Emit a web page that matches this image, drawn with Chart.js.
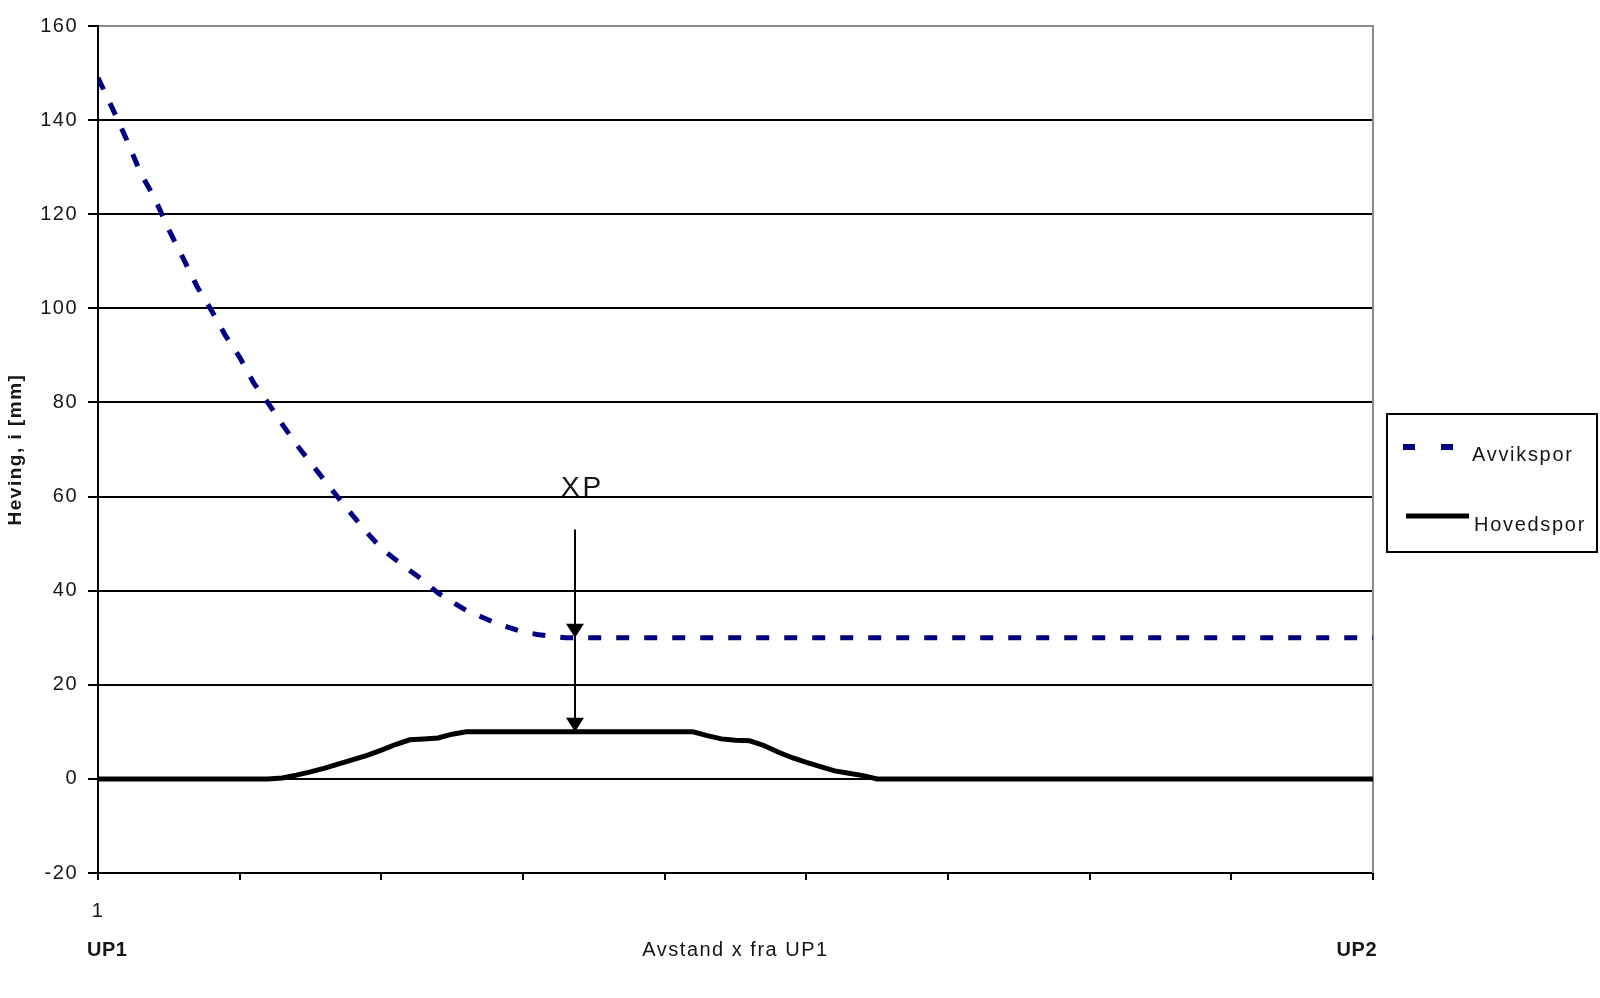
<!DOCTYPE html>
<html>
<head>
<meta charset="utf-8">
<script src="https://cdn.jsdelivr.net/npm/chart.js@4.4.1/dist/chart.umd.min.js"></script>
<style>
html,body{margin:0;padding:0;background:#fff;overflow:hidden}
canvas{display:block}
</style>
</head>
<body>
<canvas id="c" width="1600" height="998"></canvas>
<script>
// ---- data ----
const categories = [
  1, 2, 3, 4, 5, 6, 7, 8, 9, 10,
  11, 12, 13, 14, 15, 16, 17, 18, 19, 20,
  21, 22, 23, 24, 25, 26, 27, 28, 29, 30,
  31, 32, 33, 34, 35, 36, 37, 38, 39, 40,
  41, 42, 43, 44, 45, 46, 47, 48, 49, 50,
  51, 52, 53, 54, 55, 56, 57, 58, 59, 60,
  61, 62, 63, 64, 65, 66, 67, 68, 69, 70,
  71, 72, 73, 74, 75, 76, 77, 78, 79, 80,
  81, 82, 83, 84, 85, 86, 87, 88, 89, 90,
  91
];
const avvikspor = [
  149, 142.6, 136, 128.8, 123.4, 116.7, 110.7, 104.6, 99.6, 94.2,
  89.6, 84.1, 79.9, 75.4, 71.1, 67.2, 63.4, 59.6, 55.9, 52.3,
  49, 46.6, 44.3, 42.1, 39.5, 37.6, 35.8, 34.5, 33.2, 32.2,
  31.2, 30.7, 30.3, 30, 30, 30, 30, 30, 30, 30,
  30, 30, 30, 30, 30, 30, 30, 30, 30, 30,
  30, 30, 30, 30, 30, 30, 30, 30, 30, 30,
  30, 30, 30, 30, 30, 30, 30, 30, 30, 30,
  30, 30, 30, 30, 30, 30, 30, 30, 30, 30,
  30, 30, 30, 30, 30, 30, 30, 30, 30, 30,
  30
];
const hovedspor = [
  0, 0, 0, 0, 0, 0, 0, 0, 0, 0,
  0, 0, 0, 0.2, 0.8, 1.5, 2.3, 3.2, 4.1, 5,
  6.1, 7.3, 8.3, 8.5, 8.7, 9.5, 10, 10, 10, 10,
  10, 10, 10, 10, 10, 10, 10, 10, 10, 10,
  10, 10, 10, 9.2, 8.5, 8.2, 8.1, 7.1, 5.7, 4.5,
  3.5, 2.6, 1.7, 1.2, 0.7, 0, 0, 0, 0, 0,
  0, 0, 0, 0, 0, 0, 0, 0, 0, 0,
  0, 0, 0, 0, 0, 0, 0, 0, 0, 0,
  0, 0, 0, 0, 0, 0, 0, 0, 0, 0,
  0
];
const seriesNames = ['Avvikspor', 'Hovedspor'];
const yMin = -20, yMax = 160, yStep = 20;
const xTickValues = [1, 11, 21, 31, 41, 51, 61, 71, 81, 91];
const xTickLabels = ['1', '', '', '', '', '', '', '', '', ''];
const xAxisTitle = 'Avstand x fra UP1';
const yAxisTitle = 'Heving, i [mm]';
const endLabels = ['UP1', 'UP2'];
// XP annotation (in data units)
const xpLabel = 'XP';
const xpCategory = 34.7;
const xpLabelCategory = 35.1;
const xpLabelValue = 61.7;
const xpTopValue = 53;
const xpTipValues = [30, 10];

// ---- drawing ----
const FONT = "'Liberation Sans', Arial, sans-serif";
const TEXT = '#161616';

const spacingPlugin = {
  id: 'spacing',
  beforeLayout(chart) { chart.ctx.letterSpacing = '1.5px'; },
  beforeDraw(chart) { chart.ctx.letterSpacing = '1.5px'; }
};

const framePlugin = {
  id: 'frame',
  beforeDatasetsDraw(chart) {
    const {ctx, chartArea: a} = chart;
    ctx.save();
    ctx.strokeStyle = '#8c8c8c';
    ctx.lineWidth = 2;
    ctx.beginPath();
    ctx.moveTo(Math.round(a.right), a.top - 1);
    ctx.lineTo(Math.round(a.right), a.bottom);
    ctx.stroke();
    ctx.restore();
  }
};

const annotationPlugin = {
  id: 'xp',
  afterDatasetsDraw(chart) {
    const {ctx} = chart;
    const xs = chart.scales.x, ys = chart.scales.y;
    const px = Math.round(xs.getPixelForValue(xpCategory));
    ctx.save();
    ctx.setLineDash([]);
    ctx.strokeStyle = '#000';
    ctx.fillStyle = '#000';
    ctx.lineWidth = 2;
    ctx.beginPath();
    ctx.moveTo(px, ys.getPixelForValue(xpTopValue));
    ctx.lineTo(px, ys.getPixelForValue(xpTipValues[xpTipValues.length - 1]) - 4);
    ctx.stroke();
    xpTipValues.forEach(v => {
      const ty = ys.getPixelForValue(v);
      ctx.beginPath();
      ctx.moveTo(px - 9, ty - 14);
      ctx.lineTo(px + 9, ty - 14);
      ctx.lineTo(px, ty);
      ctx.closePath();
      ctx.fill();
    });
    ctx.font = '28px ' + FONT;
    ctx.letterSpacing = '3px';
    ctx.textAlign = 'center';
    ctx.textBaseline = 'middle';
    ctx.fillStyle = TEXT;
    ctx.fillText(xpLabel, xs.getPixelForValue(xpLabelCategory) + 1.5, ys.getPixelForValue(xpLabelValue));
    ctx.restore();
  }
};

const extrasPlugin = {
  id: 'extras',
  afterDraw(chart) {
    const {ctx, chartArea: a} = chart;
    const ds = chart.data.datasets;
    ctx.save();
    // UP1 / UP2 end labels
    ctx.font = 'bold 20px ' + FONT;
    ctx.letterSpacing = '0.5px';
    ctx.fillStyle = TEXT;
    ctx.textBaseline = 'middle';
    ctx.textAlign = 'left';
    ctx.fillText(endLabels[0], a.left - 11, 950);
    ctx.textAlign = 'right';
    ctx.fillText(endLabels[1], a.right + 4, 950);

    // legend
    const lx = 1387, ly = 414, lw = 210, lh = 138;
    ctx.fillStyle = '#fff';
    ctx.fillRect(lx, ly, lw, lh);
    ctx.strokeStyle = '#000';
    ctx.lineWidth = 2;
    ctx.setLineDash([]);
    ctx.strokeRect(lx, ly, lw, lh);

    ctx.strokeStyle = ds[0].borderColor;
    ctx.lineWidth = 6;
    ctx.setLineDash([12, 26]);
    ctx.beginPath();
    ctx.moveTo(1403, 447);
    ctx.lineTo(1454, 447);
    ctx.stroke();

    ctx.setLineDash([]);
    ctx.strokeStyle = ds[1].borderColor;
    ctx.lineWidth = 5;
    ctx.beginPath();
    ctx.moveTo(1406, 516);
    ctx.lineTo(1469, 516);
    ctx.stroke();

    ctx.font = '20px ' + FONT;
    ctx.letterSpacing = '1.7px';
    ctx.fillStyle = TEXT;
    ctx.textAlign = 'left';
    ctx.textBaseline = 'middle';
    ctx.fillText(ds[0].label, 1472, 455);
    ctx.fillText(ds[1].label, 1474, 525);
    ctx.restore();
  }
};

new Chart(document.getElementById('c').getContext('2d'), {
  type: 'line',
  data: {
    datasets: [
      {
        label: seriesNames[0],
        data: categories.map((c, i) => ({x: c, y: avvikspor[i]})),
        borderColor: '#000080',
        borderWidth: 5,
        borderDash: [13, 15],
        pointRadius: 0,
        fill: false,
        tension: 0
      },
      {
        label: seriesNames[1],
        data: categories.map((c, i) => ({x: c, y: hovedspor[i]})),
        borderColor: '#000000',
        borderWidth: 5,
        pointRadius: 0,
        fill: false,
        tension: 0
      }
    ]
  },
  options: {
    responsive: false,
    animation: false,
    devicePixelRatio: 1,
    layout: {padding: {top: 26, right: 227, bottom: 0, left: 0}},
    plugins: {legend: {display: false}, tooltip: {enabled: false}},
    scales: {
      x: {
        type: 'linear',
        min: categories[0],
        max: categories[categories.length - 1],
        afterBuildTicks: s => { s.ticks = xTickValues.map(v => ({value: v})); },
        afterFit: s => { s.height = 125; },
        ticks: {
          autoSkip: false,
          maxRotation: 0,
          padding: 19,
          color: TEXT,
          font: {family: FONT, size: 20},
          callback: (v, i) => xTickLabels[i] ?? ''
        },
        grid: {
          drawOnChartArea: false,
          drawTicks: true,
          tickLength: 7,
          tickColor: '#000',
          tickWidth: 2,
          color: '#000',
          lineWidth: 2
        },
        border: {display: true, color: '#000', width: 2},
        title: {
          display: true,
          text: xAxisTitle,
          color: TEXT,
          font: {family: FONT, size: 20},
          padding: {top: 0, bottom: 36}
        }
      },
      y: {
        min: yMin,
        max: yMax,
        afterFit: s => { s.width = 98; },
        ticks: {
          stepSize: yStep,
          padding: 10,
          color: TEXT,
          font: {family: FONT, size: 20}
        },
        grid: {
          color: c => (c.tick && c.tick.value === yMax) ? '#8c8c8c' : '#000',
          lineWidth: 2,
          drawTicks: true,
          tickLength: 10,
          tickColor: '#000',
          tickWidth: 2
        },
        border: {display: true, color: '#000', width: 2},
        title: {
          display: true,
          text: yAxisTitle,
          color: TEXT,
          font: {family: FONT, size: 19, weight: 'bold'},
          padding: {top: 4, bottom: 0}
        }
      }
    }
  },
  plugins: [spacingPlugin, framePlugin, annotationPlugin, extrasPlugin]
});
</script>
</body>
</html>
